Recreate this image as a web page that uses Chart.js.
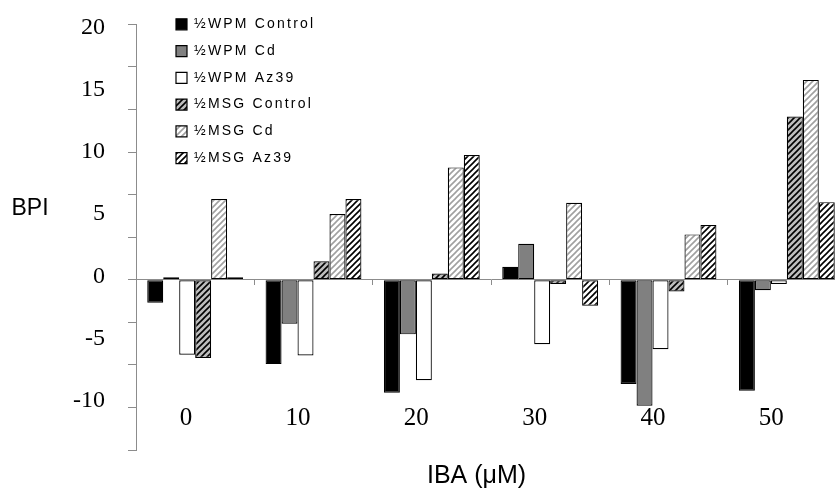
<!DOCTYPE html>
<html><head><meta charset="utf-8">
<script src="https://cdn.jsdelivr.net/npm/chart.js@4/dist/chart.umd.min.js"></script>
<style>
html,body{margin:0;padding:0;background:#fff;overflow:hidden;}
#wrap{width:835px;height:488px;overflow:hidden;position:relative;background:#fff;}
canvas{display:block;}
</style></head><body>
<div id="wrap"><canvas id="c" width="846" height="488"></canvas></div>
<script>
// ---- data ----
const categories = ['0', '10', '20', '30', '40', '50'];
const wpmControl = [-1.85, -6.8, -9.1, 1.05, -8.4, -8.95];
const wpmCd      = [0.2, -3.55, -4.4, 2.9, -10.15, -0.85];
const wpmAz39    = [-6.05, -6.1, -8.1, -5.2, -5.6, -0.35];
const msgControl = [-6.3, 1.48, 0.5, -0.35, -0.95, 13.15];
const msgCd      = [6.5, 5.3, 9.05, 6.2, 3.65, 16.1];
const msgAz39    = [0.2, 6.5, 10.05, -2.1, 4.4, 6.25];
const seriesNames = ['½WPM Control', '½WPM Cd', '½WPM Az39', '½MSG Control', '½MSG Cd', '½MSG Az39'];
const yLabelTicks = [-10, -5, 0, 5, 10, 15, 20];
const yMarkStep = 3.43;          // spacing of the axis tick marks
const yMarkCountBelow = 4;
const yMarkCountAbove = 6;
const yAxisTitle = 'BPI';
const xAxisTitle = 'IBA (μM)';

// ---- build ----
const canvas = document.getElementById('c');
const ctx = canvas.getContext('2d');

function hatch(bg, fg, lw) {
  const s = 6;
  const c = document.createElement('canvas');
  c.width = s; c.height = s;
  const g = c.getContext('2d');
  g.fillStyle = bg; g.fillRect(0, 0, s, s);
  g.strokeStyle = fg; g.lineWidth = lw;
  g.beginPath();
  g.moveTo(-1, s + 1); g.lineTo(s + 1, -1);
  g.moveTo(-s / 2 - 1, s / 2 + 1); g.lineTo(s / 2 + 1, -s / 2 - 1);
  g.moveTo(s / 2 - 1, s * 1.5 + 1); g.lineTo(s * 1.5 + 1, s / 2 - 1);
  g.stroke();
  return ctx.createPattern(c, 'repeat');
}

const fills = [
  '#000000',
  '#808080',
  '#ffffff',
  hatch('#bdbdbd', '#000000', 1.6),
  hatch('#ffffff', '#a0a0a0', 1.6),
  hatch('#ffffff', '#000000', 1.6)
];
const seriesData = [wpmControl, wpmCd, wpmAz39, msgControl, msgCd, msgAz39];

const datasets = seriesData.map((d, i) => ({
  label: seriesNames[i],
  data: d,
  backgroundColor: fills[i],
  borderColor: '#000',
  borderWidth: 1.2,
  borderSkipped: false,
  categoryPercentage: 0.81,
  barPercentage: 1
}));

const yMin = -yMarkCountBelow * yMarkStep;
const yMax = yMarkCountAbove * yMarkStep;
const markValues = [];
for (let k = -yMarkCountBelow; k <= yMarkCountAbove; k++) markValues.push(+(k * yMarkStep).toFixed(4));
const allYTicks = Array.from(new Set(markValues.concat(yLabelTicks))).sort((a, b) => a - b);

const AXIS_GRAY = '#8c8c8c';

const legendPlugin = {
  id: 'legendPlace',
  afterInit(chart) {
    const lg = chart.legend;
    if (lg && !lg._wrapped) {
      const d = lg.draw.bind(lg);
      lg.draw = function (ca) {
        const c = chart.ctx;
        c.save();
        try { c.letterSpacing = '2.2px'; } catch (e) {}
        d(ca);
        c.restore();
      };
      lg._wrapped = true;
    }
  },
  afterLayout(chart) {
    const lg = chart.legend;
    if (!lg) return;
    const pad = lg.options.labels.padding;
    const w = lg.right - lg.left, h = lg.bottom - lg.top;
    lg.left = 176 - pad; lg.right = lg.left + w;
    lg.top = 24.3 - 7 - pad; lg.bottom = lg.top + h;
  }
};

const titlesPlugin = {
  id: 'axisTitles',
  afterDraw(chart) {
    const c = chart.ctx;
    c.save();
    c.fillStyle = '#000';
    c.textBaseline = 'alphabetic';
    c.textAlign = 'left';
    c.font = '23px "Liberation Sans", Arial, sans-serif';
    c.fillText(yAxisTitle, 11.5, 215);
    c.textAlign = 'center';
    c.font = '25px "Liberation Sans", Arial, sans-serif';
    c.fillText(xAxisTitle, 476.5, 483);
    c.restore();
  }
};

new Chart(canvas, {
  type: 'bar',
  data: { labels: categories, datasets },
  options: {
    responsive: false,
    animation: false,
    devicePixelRatio: 1,
    layout: { padding: { top: 24.3, left: 0, right: 0, bottom: 0 } },
    plugins: {
      tooltip: { enabled: false },
      legend: {
        position: 'chartArea',
        align: 'start',
        labels: {
          boxWidth: 11,
          boxHeight: 11,
          padding: 12.75,
          color: '#000',
          font: { family: '"Liberation Sans", Arial, sans-serif', size: 14 }
        }
      }
    },
    scales: {
      x: {
        type: 'category',
        position: 'bottom',
        offset: true,
        grid: { display: false, offset: true, drawTicks: false },
        border: { display: false },
        ticks: {
          mirror: true,
          align: 'end',
          labelOffset: -3,
          padding: 17,
          maxRotation: 0,
          autoSkip: false,
          color: '#000',
          font: { family: '"Liberation Serif", "Times New Roman", serif', size: 25 }
        },
        afterFit(s) { s.height = 38; s.paddingLeft = 0; s.paddingRight = 0; }
      },
      x2: {
        type: 'category',
        axis: 'x',
        position: { y: 0 },
        offset: true,
        grid: { display: true, offset: true, drawOnChartArea: false, tickLength: 5, color: AXIS_GRAY },
        border: { display: false },
        ticks: { display: false },
        afterFit(s) { s.paddingLeft = 0; s.paddingRight = 0; }
      },
      y: {
        type: 'linear',
        position: 'left',
        min: yMin,
        max: yMax,
        afterBuildTicks(s) { s.ticks = allYTicks.map(v => ({ value: v })); },
        ticks: {
          autoSkip: false,
          padding: 23,
          labelOffset: -3.5,
          color: '#000',
          font: { family: '"Liberation Serif", "Times New Roman", serif', size: 24 },
          callback: (v) => yLabelTicks.includes(v) ? String(v) : ''
        },
        grid: {
          drawOnChartArea: true,
          lineWidth: 1,
          color: (c) => (c.tick && c.tick.value === 0) ? AXIS_GRAY : 'rgba(0,0,0,0)',
          tickLength: 8,
          tickColor: (c) => (c.tick && markValues.includes(c.tick.value)) ? AXIS_GRAY : 'rgba(0,0,0,0)'
        },
        border: { display: true, color: AXIS_GRAY, width: 1 },
        afterFit(s) { s.width = 136; s.paddingTop = 0; s.paddingBottom = 0; }
      }
    }
  },
  plugins: [legendPlugin, titlesPlugin]
});
</script>
</body></html>
